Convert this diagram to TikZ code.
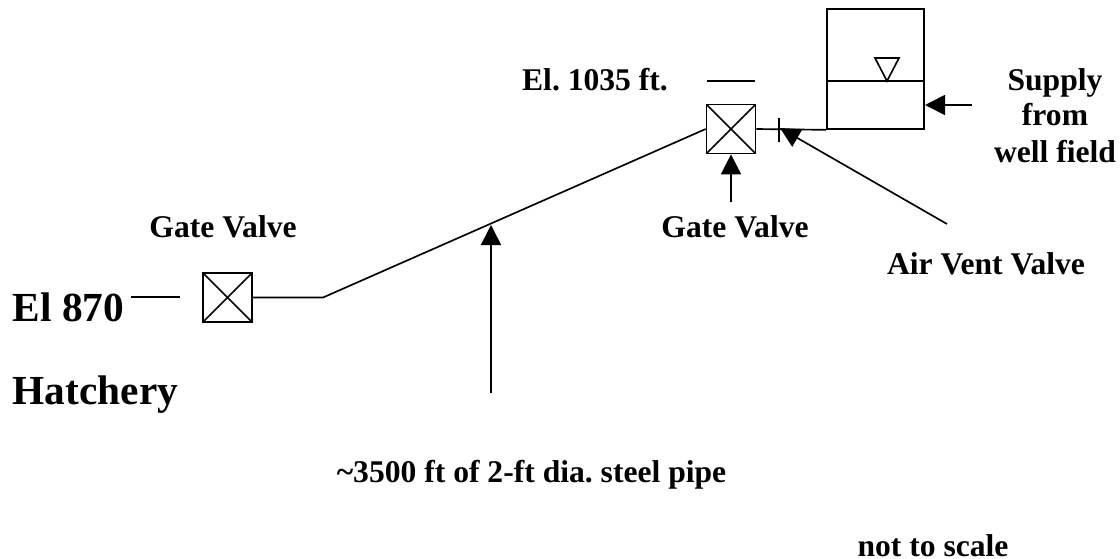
\documentclass[tikz,border=0pt]{standalone}
\usepackage{fontspec}
\setmainfont{Liberation Serif}
\usetikzlibrary{arrows.meta}
\tikzset{
  lbl/.style={font=\frenchspacing\fontsize{23.7pt}{28pt}\bfseries, inner sep=0pt, anchor=base},
  biglbl/.style={font=\fontsize{31pt}{36pt}\bfseries, inner sep=0pt, anchor=base west},
  valve/.style={draw, minimum size=36.75pt, inner sep=0pt, path picture={
    \draw (path picture bounding box.south west) -- (path picture bounding box.north east);
    \draw (path picture bounding box.north west) -- (path picture bounding box.south east);}},
}
\begin{document}
\begin{tikzpicture}[x=.75pt, y=-.75pt, >={Triangle[length=15pt,width=15pt]}, line width=1.25pt]
\useasboundingbox (0,0) rectangle (1120,558);
\node[valve] (low) at (227.5,297.5) {};
\node[valve] (high) at (731,129) {};
\node[draw, minimum width=72.75pt, minimum height=90pt, inner sep=0pt] (tank) at (875.5,69) {};
\coordinate (bend) at (323,297.5);
\coordinate (lvlL) at (tank.west |- 0,81);
\coordinate (lvlR) at (tank.east |- 0,81);
\coordinate (tri1) at (875,58);
\coordinate (tri2) at (899,58);
\coordinate (tri3) at (887,81);
\coordinate (tickT) at (779,118);
\coordinate (tickB) at (779,142);
\coordinate (ventTip) at (780,128);
\coordinate (ventTail) at (947,224);
\coordinate (pipeTip) at (491,225);
\coordinate (pipeTail) at (491,393);
\coordinate (gateTail) at (731,202);
\coordinate (feedTip) at (925,105);
\coordinate (feedTail) at (972,105);
\coordinate (dashA) at (131,297);
\coordinate (dashB) at (180,297);
\coordinate (dashC) at (707,81);
\coordinate (dashD) at (755,81);
\node[lbl] (gate1) at (223,237) {Gate Valve};
\node[lbl] (gate2) at (735,237) {Gate Valve};
\node[lbl] (vent) at (986,274) {Air Vent Valve};
\node[lbl] (sup1) at (1055,90) {Supply};
\node[lbl] (sup2) at (1055,125) {from};
\node[lbl] (sup3) at (1055,162) {well field};
\node[lbl] (top) at (595,90) {El. 1035 ft.};
\node[lbl] (len) at (531.5,482) {\textasciitilde3500 ft of 2-ft dia. steel pipe};
\node[lbl] (scale) at (933,556) {not to scale};
\node[biglbl] (el) at (12,321) {El 870};
\node[biglbl] (hatch) at (12,404) {Hatchery};
\draw (low.east) -- (bend) -- (high.west);
\draw (high.east) -- (tank.south west);
\draw (lvlL) -- (lvlR);
\draw (tri1) -- (tri2) -- (tri3) -- cycle;
\draw (tickT) -- (tickB);
\draw (dashA) -- (dashB);
\draw (dashC) -- (dashD);
\draw[->] (ventTail) -- (ventTip);
\draw[->] (pipeTail) -- (pipeTip);
\draw[->] (gateTail) -- (high.south);
\draw[->] (feedTail) -- (feedTip);
\end{tikzpicture}
\end{document}
